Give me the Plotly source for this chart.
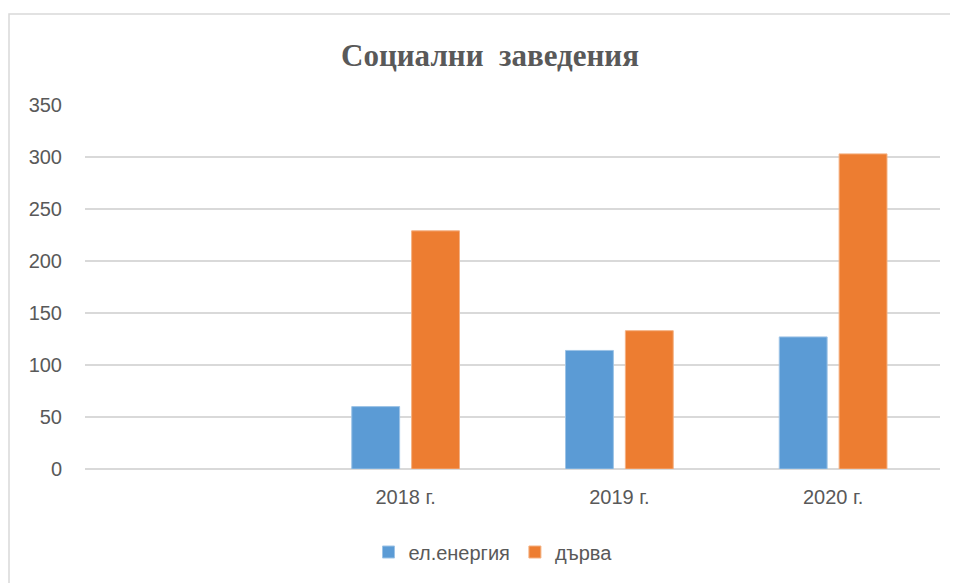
import plotly.graph_objects as go

categories = [" ", "2018 г.", "2019 г.", "2020 г."]
electricity = [None, 60, 114, 127]
firewood = [None, 229, 133, 303]
series_names = ["ел.енергия", "дърва"]
title_text = "Социални  заведения"

fig = go.Figure()
fig.add_trace(go.Bar(x=categories, y=electricity, name=series_names[0],
                     marker=dict(color="#5b9bd5", line=dict(color="#9dc3e6", width=1))))
fig.add_trace(go.Bar(x=categories, y=firewood, name=series_names[1],
                     marker=dict(color="#ed7d31", line=dict(color="#f4b183", width=1))))

# page body has an 8px margin; compensate so the plot area lands at x 85..940, y 105..469
OFF = 8
W, H = 958, 583
L, R, T, B = 85 - OFF, W - 940 + OFF, 105 - OFF, H - 469 + OFF
pw, ph = W - L - R, H - T - B

fig.update_layout(
    width=W, height=H,
    margin=dict(l=L, r=R, t=T, b=B, pad=0),
    paper_bgcolor="white", plot_bgcolor="white",
    barmode="group", bargap=0.44, bargroupgap=0.2,
    title=dict(text="<b>" + title_text + "</b>", x=(490 - 85) / pw, xref="paper", xanchor="center",
               y=1 - (55 - OFF) / H, yanchor="middle",
               font=dict(family="Liberation Serif", size=31, color="#595959")),
    xaxis=dict(type="category", categoryorder="array", categoryarray=categories,
               showgrid=False, showline=False, ticks="",
               tickfont=dict(family="Liberation Sans", size=20, color="#595959"),
               ticklabelstandoff=14),
    yaxis=dict(range=[0, 350], tickvals=[0, 50, 100, 150, 200, 250, 300, 350],
               showgrid=True, gridcolor="#d9d9d9", gridwidth=2,
               zeroline=True, zerolinecolor="#d9d9d9", zerolinewidth=2,
               showline=False, ticks="",
               tickfont=dict(family="Liberation Sans", size=20, color="#595959"),
               ticklabelstandoff=22),
    legend=dict(orientation="h", x=(493 - 85) / pw, xanchor="center",
                y=(469 - 552) / ph, yanchor="middle",
                font=dict(family="Liberation Sans", size=20, color="#595959"),
                itemclick=False),
    shapes=[dict(type="rect", xref="paper", yref="paper",
                 x0=(9 - 85) / pw, x1=(975 - 85) / pw,
                 y0=(469 - 600) / ph, y1=(469 - 14) / ph,
                 line=dict(color="#d9d9d9", width=1.5), fillcolor="rgba(0,0,0,0)", layer="below")],
)

fig.write_html("out.html")
